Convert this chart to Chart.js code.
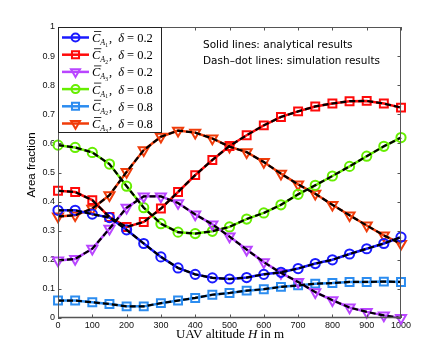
<!DOCTYPE html>
<html>
<head>
<meta charset="utf-8">
<script src="https://cdn.jsdelivr.net/npm/chart.js@4/dist/chart.umd.min.js"></script>
<style>
  html, body { margin: 0; padding: 0; background: #fff; }
  #wrap { width: 443px; height: 358px; }
</style>
</head>
<body>
<div id="wrap"><canvas id="fractionChart" width="443" height="358"></canvas></div>
<script>
// UAV altitude H in m
const altitudes = [0, 50, 100, 150, 200, 250, 300, 350, 400, 450, 500,
  550, 600, 650, 700, 750, 800, 850, 900, 950, 1000];

// delta = 0.2
const cA1Low = [0.370, 0.370, 0.357, 0.345, 0.303, 0.256, 0.210, 0.172, 0.150, 0.138, 0.134,
  0.139, 0.150, 0.157, 0.170, 0.187, 0.200, 0.220, 0.238, 0.256, 0.278];
const cA2Low = [0.437, 0.433, 0.405, 0.347, 0.313, 0.330, 0.376, 0.433, 0.491, 0.543, 0.591,
  0.628, 0.662, 0.691, 0.710, 0.727, 0.737, 0.745, 0.746, 0.737, 0.723];
const cA3Low = [0.198, 0.203, 0.238, 0.307, 0.379, 0.418, 0.418, 0.395, 0.356, 0.322, 0.280,
  0.235, 0.192, 0.155, 0.124, 0.089, 0.061, 0.036, 0.021, 0.009, 0.000];

// delta = 0.8
const cA1High = [0.594, 0.586, 0.569, 0.529, 0.453, 0.379, 0.324, 0.295, 0.290, 0.298, 0.313,
  0.340, 0.361, 0.389, 0.425, 0.456, 0.488, 0.521, 0.556, 0.590, 0.620];
const cA2High = [0.060, 0.060, 0.054, 0.048, 0.040, 0.040, 0.051, 0.060, 0.069, 0.080, 0.086,
  0.094, 0.099, 0.107, 0.112, 0.118, 0.120, 0.124, 0.124, 0.125, 0.124];
const cA3High = [0.349, 0.353, 0.376, 0.422, 0.502, 0.577, 0.623, 0.644, 0.637, 0.617, 0.589,
  0.570, 0.536, 0.496, 0.459, 0.427, 0.389, 0.353, 0.318, 0.284, 0.255];

const xTicks = [0, 100, 200, 300, 400, 500, 600, 700, 800, 900, 1000];
const yTicks = [0, 0.1, 0.2, 0.3, 0.4, 0.5, 0.6, 0.7, 0.8, 0.9, 1];

const seriesList = [
  { values: cA1Low, sub: "1", delta: "0.2", color: "#1a1aff", marker: "circle" },
  { values: cA2Low, sub: "2", delta: "0.2", color: "#ff0a0a", marker: "rect" },
  { values: cA3Low, sub: "3", delta: "0.2", color: "#b945ff", marker: "triangle" },
  { values: cA1High, sub: "1", delta: "0.8", color: "#66ee00", marker: "circle" },
  { values: cA2High, sub: "2", delta: "0.8", color: "#2b8cf0", marker: "rect" },
  { values: cA3High, sub: "3", delta: "0.8", color: "#f03c0a", marker: "triangle" },
];

const toPoints = (vals) => altitudes.map((a, i) => ({ x: a, y: vals[i] }));
const markerRadius = { circle: 4.6, rect: 5.6, triangle: 5.8 };

const datasets = [];
seriesList.forEach((s) => {
  // analytical (solid, markers)
  datasets.push({
    data: toPoints(s.values),
    borderColor: s.color,
    backgroundColor: "rgba(0,0,0,0)",
    borderWidth: 2.5,
    pointStyle: s.marker,
    pointRotation: s.marker === "triangle" ? 180 : 0,
    pointRadius: markerRadius[s.marker],
    pointBorderWidth: 2,
    pointBorderColor: s.color,
    pointBackgroundColor: "rgba(0,0,0,0)",
    tension: 0,
    clip: false,
    order: 2,
  });
});
seriesList.forEach((s) => {
  // simulation (black dash-dot)
  datasets.push({
    data: toPoints(s.values),
    borderColor: "#000",
    borderWidth: 2.2,
    borderDash: [6, 3],
    pointRadius: 0,
    tension: 0,
    clip: false,
    order: 1,
  });
});

const FRAME = "#555";

function drawMarker(ctx, type, x, y, r) {
  ctx.beginPath();
  if (type === "circle") {
    ctx.arc(x, y, r, 0, Math.PI * 2);
  } else if (type === "rect") {
    const h = r * Math.SQRT1_2;
    ctx.rect(x - h, y - h, 2 * h, 2 * h);
  } else {
    ctx.moveTo(x, y + r);
    ctx.lineTo(x - r * 0.866, y - r * 0.5);
    ctx.lineTo(x + r * 0.866, y - r * 0.5);
    ctx.closePath();
  }
  ctx.stroke();
}

const decorPlugin = {
  id: "decor",
  afterDraw(chart) {
    const { ctx, chartArea: a, scales } = chart;
    ctx.save();

    // frame with inward ticks
    ctx.strokeStyle = FRAME;
    ctx.lineWidth = 1;
    ctx.strokeRect(a.left + 0.5, a.top + 0.5, a.right - a.left - 1, a.bottom - a.top - 1);
    ctx.lineWidth = 1.6;
    ctx.beginPath();
    ctx.moveTo(a.left, a.bottom - 0.5);
    ctx.lineTo(a.right, a.bottom - 0.5);
    ctx.stroke();
    ctx.lineWidth = 1;
    ctx.beginPath();
    xTicks.forEach((t) => {
      const px = Math.round(scales.x.getPixelForValue(t)) + 0.5;
      ctx.moveTo(px, a.bottom);
      ctx.lineTo(px, a.bottom - 3.5);
      ctx.moveTo(px, a.top);
      ctx.lineTo(px, a.top + 3.5);
    });
    yTicks.forEach((t) => {
      const py = Math.round(scales.y.getPixelForValue(t)) + 0.5;
      ctx.moveTo(a.left, py);
      ctx.lineTo(a.left + 3.5, py);
      ctx.moveTo(a.right, py);
      ctx.lineTo(a.right - 3.5, py);
    });
    ctx.stroke();

    // legend box
    const lx = a.left, ly = a.top, lw = 104, lh = 106;
    ctx.fillStyle = "#fff";
    ctx.fillRect(lx, ly, lw, lh);
    ctx.strokeStyle = "#222";
    ctx.lineWidth = 1;
    ctx.strokeRect(lx + 0.5, ly + 0.5, lw - 1, lh - 1);
    seriesList.forEach((s, i) => {
      const cy = ly + 10.5 + i * 17.2;
      ctx.strokeStyle = s.color;
      ctx.lineWidth = 2.5;
      ctx.beginPath();
      ctx.moveTo(lx + 4, cy);
      ctx.lineTo(lx + 31, cy);
      ctx.stroke();
      ctx.lineWidth = 2;
      drawMarker(ctx, s.marker, lx + 17.5, cy, markerRadius[s.marker] - 0.6);

      // label: C-bar with subscript A_k, delta = value
      ctx.fillStyle = "#000";
      ctx.strokeStyle = "#000";
      ctx.textBaseline = "alphabetic";
      ctx.textAlign = "left";
      const base = cy + 4.5;
      let tx = lx + 34;
      ctx.font = 'italic 12.5px "Liberation Serif", "DejaVu Serif", serif';
      ctx.fillText("C", tx, base);
      const cw = ctx.measureText("C").width;
      ctx.lineWidth = 0.8;
      ctx.beginPath();
      ctx.moveTo(tx + 2, base - 10.5);
      ctx.lineTo(tx + cw + 1, base - 10.5);
      ctx.stroke();
      tx += cw;
      ctx.font = 'italic 8px "Liberation Serif", "DejaVu Serif", serif';
      ctx.fillText("A", tx, base + 3);
      tx += ctx.measureText("A").width;
      ctx.font = '5.5px "Liberation Serif", "DejaVu Serif", serif';
      ctx.fillText(s.sub, tx, base + 4.5);
      tx += ctx.measureText(s.sub).width + 1;
      ctx.font = '12.5px "Liberation Serif", "DejaVu Serif", serif';
      ctx.fillText(", ", tx, base);
      tx += ctx.measureText(", ").width + 3;
      ctx.font = 'italic 12.5px "Liberation Serif", "DejaVu Serif", serif';
      ctx.fillText("\u03B4", tx, base);
      tx += ctx.measureText("\u03B4").width + 3;
      ctx.font = '12.5px "Liberation Serif", "DejaVu Serif", serif';
      ctx.fillText("= " + s.delta, tx, base);
    });

    // note text
    ctx.fillStyle = "#000";
    ctx.font = '10.5px "DejaVu Sans", "Liberation Sans", sans-serif';
    ctx.textBaseline = "middle";
    ctx.textAlign = "left";
    ctx.fillText("Solid lines: analytical results", 203, 45);
    ctx.fillText("Dash\u2013dot lines: simulation results", 203, 61);

    // y title
    ctx.save();
    ctx.translate(32, 165);
    ctx.rotate(-Math.PI / 2);
    ctx.textAlign = "center";
    ctx.textBaseline = "middle";
    ctx.font = '11.5px "Liberation Sans", Arial, sans-serif';
    ctx.fillText("Area fraction", 0, 0);
    ctx.restore();

    // x title with italic H
    const parts = [
      { t: "UAV altitude ", f: '13px "Liberation Serif", serif' },
      { t: "H", f: 'italic 13px "Liberation Serif", serif' },
      { t: " in m", f: '13px "Liberation Serif", serif' },
    ];
    let total = 0;
    parts.forEach((p) => { ctx.font = p.f; total += ctx.measureText(p.t).width; });
    let xx = 230 - total / 2;
    ctx.textAlign = "left";
    ctx.textBaseline = "alphabetic";
    parts.forEach((p) => {
      ctx.font = p.f;
      ctx.fillText(p.t, xx, 338);
      xx += ctx.measureText(p.t).width;
    });
    ctx.restore();
  },
};

new Chart(document.getElementById("fractionChart"), {
  type: "line",
  data: { datasets },
  options: {
    responsive: false,
    animation: false,
    events: [],
    layout: { padding: { left: 0, right: 42, top: 27, bottom: 0 } },
    plugins: { legend: { display: false }, tooltip: { enabled: false } },
    scales: {
      x: {
        type: "linear",
        min: 0,
        max: 1000,
        afterFit: (scale) => { scale.height = 40; },
        afterBuildTicks: (scale) => { scale.ticks = xTicks.map((v) => ({ value: v })); },
        grid: { display: false, drawTicks: false },
        border: { display: false },
        ticks: {
          padding: 2,
          maxRotation: 0,
          color: "#111",
          font: { family: '"Liberation Sans", Arial, sans-serif', size: 9 },
          callback: (v) => String(v),
        },
      },
      y: {
        min: 0,
        max: 1,
        afterFit: (scale) => { scale.width = 58; },
        afterBuildTicks: (scale) => { scale.ticks = yTicks.map((v) => ({ value: v })); },
        grid: { display: false, drawTicks: false },
        border: { display: false },
        ticks: {
          padding: 3,
          color: "#111",
          font: { family: '"Liberation Sans", Arial, sans-serif', size: 9 },
          callback: (v) => String(Math.round(v * 10) / 10),
        },
      },
    },
  },
  plugins: [decorPlugin],
});
</script>
</body>
</html>
